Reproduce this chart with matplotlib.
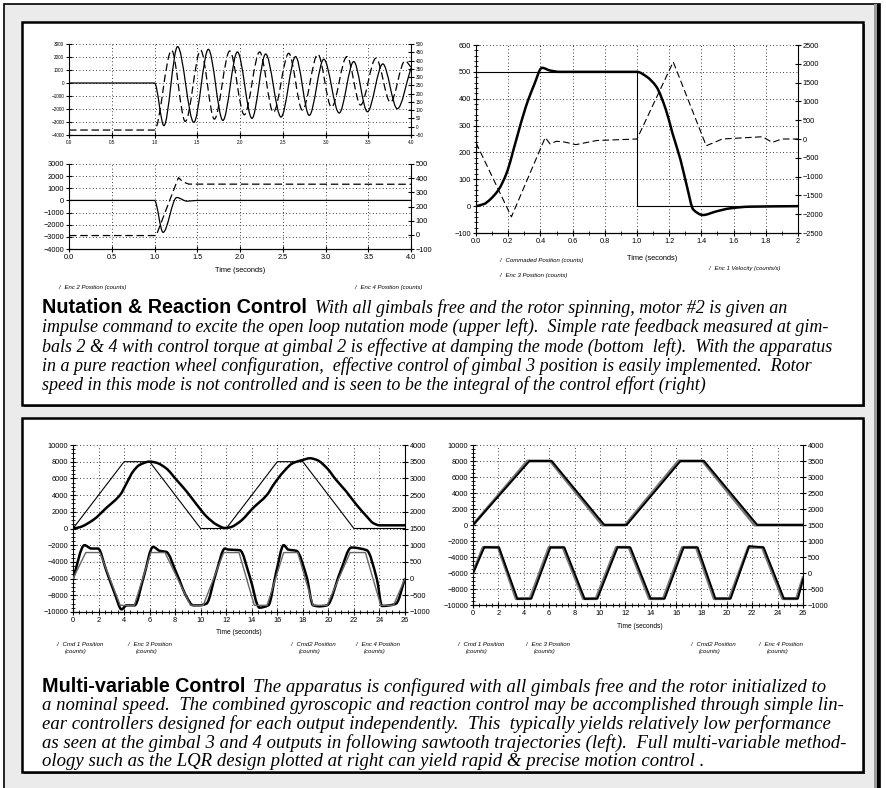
import numpy as np
import matplotlib
matplotlib.use("Agg")
import matplotlib.pyplot as plt
from matplotlib.path import Path
from matplotlib.patches import PathPatch, Rectangle
from matplotlib.ticker import MultipleLocator, FormatStrFormatter

plt.rcParams['font.family'] = ['Liberation Sans', 'DejaVu Sans']

# ---------------- data ----------------
# upper left: open loop nutation (Enc 2 left axis, Enc 4 right axis)
ol_t2 = [0, 1.0, 1.11, 1.27, 1.46, 1.63, 1.80, 1.97, 2.14, 2.30, 2.48, 2.65, 2.81,
         2.98, 3.16, 3.33, 3.49, 3.67, 3.84, 4.0]
ol_enc2 = [0, 0, -3280, 2800, -3030, 2590, -2880, 2390, -2720, 2230, -2620, 2030,
           -2490, 1830, -2310, 1650, -2210, 1470, -1980, 1150]
ol_t4 = [0, 1.0, 1.20, 1.36, 1.54, 1.70, 1.88, 2.05, 2.23, 2.39, 2.57, 2.73, 2.91,
         3.07, 3.25, 3.41, 3.59, 3.76, 3.93, 4.0]
ol_enc4 = [-20, -20, 462, 32, 462, 46, 458, 72, 452, 87, 444, 100, 438, 118, 424,
           131, 414, 147, 398, 360]

# lower left: rate feedback damping
cl_t2 = [0, 1.0, 1.10, 1.26, 1.38, 1.5, 4.0]
cl_enc2 = [0, 0, -2630, 240, -60, 0, 0]
cl_t4 = [0, 1.02, 1.28, 1.33, 1.40, 4.0]
cl_enc4 = [-5, -5, 404, 375, 358, 357]

# right: reaction wheel control of gimbal 3
rw_cmd_t = [0, 0, 1.0, 1.0, 2.0]
rw_cmd = [0, 500, 500, 0, 0]
rw_t3 = [0, 0.05, 0.09, 0.14, 0.19, 0.25, 0.31, 0.36, 0.41, 0.46, 0.52, 1.0, 1.06,
         1.12, 1.18, 1.22, 1.27, 1.31, 1.35, 1.41, 1.49, 1.58, 1.70, 2.0]
rw_enc3 = [0, 8, 26, 61, 123, 247, 371, 450, 515, 505, 500, 500, 482, 445, 358,
           272, 173, 74, -13, -33, -20, -8, -2, 0]
rw_tv = [0, 0.22, 0.43, 0.46, 0.50, 0.55, 0.62, 0.75, 1.0, 1.225, 1.43, 1.53, 1.78,
         1.84, 1.9, 2.0]
rw_vel = [-100, -2070, 40, -130, -60, -80, -150, -40, 0, 2050, -180, 0, 60, -90, 0, 0]
rw_xticks = [0, 0.2, 0.4, 0.6, 0.8, 1.0, 1.2, 1.4, 1.6, 1.8, 2.0]
rw_xlabels = ['0.0', '0.2', '0.4', '0.6', '0.8', '1.0', '1.2', '1.4', '1.6', '1.8', '2']

# bottom left: decoupled linear controllers
dl_cmd1_t = [0, 4, 6, 10, 12, 16, 18, 22, 26]
dl_cmd1 = [0, 8000, 8000, 0, 0, 8000, 8000, 0, 0]
dl_t3 = [0, 0.5, 1.6, 2.6, 3.7, 4.2, 4.7, 5.2, 6.0, 6.5, 7.3, 8.1, 8.9, 9.7, 10.45,
         11.25, 11.9, 12.3, 13.1, 14.1, 15.2, 15.7, 16.5, 17.2, 18.0, 18.55, 19.1,
         19.9, 20.6, 21.4, 22.2, 23.0, 23.5, 24.0, 26]
dl_enc3 = [0, 140, 1050, 2450, 4040, 5430, 6820, 7600, 8010, 7890, 7200, 5830, 4430,
           2840, 1450, 460, 60, 140, 850, 2450, 4040, 5230, 6820, 7810, 8210, 8410,
           8210, 7210, 5830, 4430, 2840, 1450, 660, 380, 380]
dl_cmd2_t = [0, 1.0, 2.1, 3.7, 4.8, 6.1, 7.2, 9.2, 10.2, 11.8, 13.0, 14.2, 15.2,
             16.5, 17.6, 18.8, 19.9, 21.7, 22.9, 24.1, 25.1, 26]
dl_cmd2 = [0, 780, 780, -800, -800, 780, 780, -800, -800, 780, 780, -800, -800,
           780, 780, -800, -800, 780, 780, -800, -800, 0]
dl_t4 = [0, 0.9, 1.44, 1.96, 2.6, 3.27, 3.8, 4.2, 4.83, 5.5, 6.27, 6.8, 7.3, 8.1,
         8.9, 9.4, 9.9, 10.45, 11.2, 11.9, 12.15, 13.07, 13.85, 14.6, 15.3, 15.9,
         16.5, 16.85, 17.5, 18.3, 18.8, 19.3, 19.9, 20.9, 21.8, 23.0, 23.8, 24.2,
         24.8, 25.3, 26]
dl_enc4 = [0, 1000, 900, 900, 250, -450, -920, -800, -800, 0, 950, 830, 800, 170,
           -550, -800, -800, -750, 170, 900, 870, 850, 50, -870, -800, 170, 1000, 870,
           830, 50, -800, -830, -800, 170, 930, 850, -20, -820, -800, -750, 0]

# bottom right: LQR
lq_cmd1_t = [0, 4.3, 6.1, 10.2, 12.0, 16.2, 18.1, 22.2, 26]
lq_cmd1 = [0, 8000, 8000, 0, 0, 8000, 8000, 0, 0]
lq_t3 = [0, 4.45, 6.2, 10.35, 12.1, 16.35, 18.2, 22.4, 26]
lq_enc3 = [0, 8000, 8000, 0, 0, 8000, 8000, 0, 0]
lq_cmd2_t = [0, 0.8, 2.0, 3.4, 4.5, 6.0, 7.1, 8.7, 9.7, 11.3, 12.3, 13.9, 15.0,
             16.5, 17.6, 19.0, 20.2, 21.7, 22.8, 24.4, 25.5, 26]
lq_cmd2 = [0, 800, 800, -800, -800, 800, 800, -800, -800, 800, 800, -800, -800,
           800, 800, -800, -800, 800, 800, -800, -800, -150]
lq_t4 = [0, 0.9, 2.05, 3.5, 4.6, 6.1, 7.2, 8.8, 9.8, 11.4, 12.4, 14.0, 15.1, 16.6,
         17.7, 19.1, 20.3, 21.75, 22.9, 24.5, 25.6, 26]
lq_enc4 = [0, 810, 800, -810, -800, 800, 800, -810, -800, 810, 800, -800, -800,
           800, 800, -800, -800, 840, 800, -800, -800, -200]

cap1_head = "Nutation & Reaction Control"
cap1_lines = [
    "With all gimbals free and the rotor spinning, motor #2 is given an",
    "impulse command to excite the open loop nutation mode (upper left).  Simple rate feedback measured at gim-",
    "bals 2 & 4 with control torque at gimbal 2 is effective at damping the mode (bottom  left).  With the apparatus",
    "in a pure reaction wheel configuration,  effective control of gimbal 3 position is easily implemented.  Rotor",
    "speed in this mode is not controlled and is seen to be the integral of the control effort (right)",
]
cap2_head = "Multi-variable Control"
cap2_lines = [
    "The apparatus is configured with all gimbals free and the rotor initialized to",
    "a nominal speed.  The combined gyroscopic and reaction control may be accomplished through simple lin-",
    "ear controllers designed for each output independently.  This  typically yields relatively low performance",
    "as seen at the gimbal 3 and 4 outputs in following sawtooth trajectories (left).  Full multi-variable method-",
    "ology such as the LQR design plotted at right can yield rapid & precise motion control .",
]

# ---------------- helpers ----------------
W, H = 886, 788
fig = plt.figure(figsize=(W / 100, H / 100), dpi=100)
fig.patch.set_facecolor('white')


def box(x0, y0, x1, y1):
    return [x0 / W, 1 - y1 / H, (x1 - x0) / W, (y1 - y0) / H]


def prect(x0, y0, x1, y1, **kw):
    fig.add_artist(Rectangle((x0 / W, 1 - y1 / H), (x1 - x0) / W, (y1 - y0) / H,
                             transform=fig.transFigure, **kw))


def ftext(x, y, s, **kw):
    return fig.text(x / W, 1 - y / H, s, **kw)


def smooth(ax, x, y, **kw):
    # monotone cubic drawn as bezier path through the read points
    x = np.asarray(x, float)
    y = np.asarray(y, float)
    h = np.diff(x)
    d = np.diff(y) / h
    m = np.zeros_like(y)
    m[0], m[-1] = d[0], d[-1]
    for i in range(1, len(y) - 1):
        if d[i - 1] * d[i] > 0:
            m[i] = 2 / (1 / d[i - 1] + 1 / d[i])
    verts = [(x[0], y[0])]
    codes = [Path.MOVETO]
    for i in range(len(h)):
        verts += [(x[i] + h[i] / 3, y[i] + m[i] * h[i] / 3),
                  (x[i + 1] - h[i] / 3, y[i + 1] - m[i + 1] * h[i] / 3),
                  (x[i + 1], y[i + 1])]
        codes += [Path.CURVE4] * 3
    ax.add_patch(PathPatch(Path(verts, codes), fill=False, **kw))


def make_axes(rect, xlim, xmaj, ylim, ymaj, rlim, rmaj, fs, xminor=None, yminor=None):
    ax = fig.add_axes(box(*rect))
    ax.set_xlim(*xlim)
    ax.set_ylim(*ylim)
    ax.xaxis.set_major_locator(MultipleLocator(xmaj))
    ax.yaxis.set_major_locator(MultipleLocator(ymaj))
    if xminor:
        ax.xaxis.set_minor_locator(MultipleLocator(xminor))
    if yminor:
        ax.yaxis.set_minor_locator(MultipleLocator(yminor))
    ax.grid(True, which='major', color='black', linestyle=(0, (1, 3)), linewidth=0.6)
    ax.spines['top'].set_visible(False)
    ax.spines['right'].set_visible(False)
    ax.tick_params(which='major', direction='inout', length=5, width=0.8,
                   labelsize=fs, pad=1)
    ax.tick_params(which='minor', direction='inout', length=3, width=0.6)
    ar = ax.twinx()
    ar.set_ylim(*rlim)
    ar.yaxis.set_major_locator(MultipleLocator(rmaj))
    ar.spines['top'].set_visible(False)
    ar.spines['left'].set_visible(False)
    ar.tick_params(direction='inout', length=5, width=0.8, labelsize=fs, pad=1)
    return ax, ar


# ---------------- page frame ----------------
prect(4, 4, 880, 800, facecolor='#ebebeb', edgecolor='black', linewidth=1.2, zorder=-5)
prect(874, 4, 877, 800, facecolor='#9a9a9a', edgecolor='none', zorder=-4)
prect(877, 4, 880, 800, facecolor='black', edgecolor='none', zorder=-4)
for y0, y1 in [(22, 405), (418, 772)]:
    prect(24, y0 + 2, 865, y1 + 2, facecolor='#555555', edgecolor='none', zorder=-3)
    prect(22, y0, 863, y1, facecolor='white', edgecolor='black', linewidth=1.8, zorder=-2)

dash = (0, (6, 3))

# ---------------- upper left ----------------
a1, a1r = make_axes((69, 44, 411, 135), (0, 4), 0.5, (-4000, 3000), 1000,
                    (-50, 500), 50, 3.3)
a1.xaxis.set_major_formatter(FormatStrFormatter('%.1f'))
smooth(a1, ol_t2, ol_enc2, edgecolor='black', linewidth=0.9)
smooth(a1r, ol_t4, ol_enc4, edgecolor='black', linewidth=0.9, linestyle=dash)

a2, a2r = make_axes((69, 164, 411, 249), (0, 4), 0.5, (-4000, 3000), 1000,
                    (-100, 500), 100, 5.3)
a2.xaxis.set_major_formatter(FormatStrFormatter('%.1f'))
smooth(a2, cl_t2, cl_enc2, edgecolor='black', linewidth=0.9)
a2r.plot(cl_t4, cl_enc4, color='black', linewidth=0.9, linestyle=dash)
ftext(240, 272, "Time (seconds)", ha='center', fontsize=5.3)
ftext(58, 289, "/   Enc 2 Position (counts)", fontsize=4.3, style='italic')
ftext(423, 289, "/   Enc 4 Position (counts)", fontsize=4.3, style='italic', ha='right')

# ---------------- upper right ----------------
a3, a3r = make_axes((476, 45, 798, 233), (0, 2), 0.2, (-100, 600), 100,
                    (-2500, 2500), 500, 5.3, xminor=0.1, yminor=20)
a3.set_xticks(rw_xticks, labels=rw_xlabels)
a3.plot(rw_cmd_t, rw_cmd, color='black', linewidth=0.8)
smooth(a3, rw_t3, rw_enc3, edgecolor='black', linewidth=1.8)
a3r.plot(rw_tv, rw_vel, color='black', linewidth=0.8, linestyle=dash)
ftext(652, 260, "Time (seconds)", ha='center', fontsize=5.3)
ftext(499, 262, "/   Commaded Position (counts)", fontsize=4.3, style='italic')
ftext(499, 277, "/   Enc 3 Position (counts)", fontsize=4.3, style='italic')
ftext(708, 270, "/   Enc 1 Velocity (counts/s)", fontsize=4.3, style='italic')

# ---------------- bottom left ----------------
a4, a4r = make_axes((73, 445, 405, 612), (0, 26), 2, (-10000, 10000), 2000,
                    (-1000, 4000), 500, 5.3, xminor=0.5, yminor=500)
a4.plot(dl_cmd1_t, dl_cmd1, color='black', linewidth=0.8)
smooth(a4, dl_t3, dl_enc3, edgecolor='black', linewidth=1.8)
a4r.plot(dl_cmd2_t, dl_cmd2, color='#666666', linewidth=1.0)
smooth(a4r, dl_t4, dl_enc4, edgecolor='black', linewidth=1.8)
ftext(239, 634, "Time (seconds)", ha='center', fontsize=4.8)

# ---------------- bottom right ----------------
a5, a5r = make_axes((473, 445, 803, 605), (0, 26), 2, (-10000, 10000), 2000,
                    (-1000, 4000), 500, 5.3, xminor=0.5, yminor=500)
a5.plot(lq_cmd1_t, lq_cmd1, color='#777777', linewidth=2.2)
a5.plot(lq_t3, lq_enc3, color='black', linewidth=1.4)
a5r.plot(lq_cmd2_t, lq_cmd2, color='#777777', linewidth=2.2)
a5r.plot(lq_t4, lq_enc4, color='black', linewidth=1.4)
ftext(640, 628, "Time (seconds)", ha='center', fontsize=4.8)

for x0, lab in [(56, "Cmd 1 Position"), (127, "Enc 3 Position"),
                (290, "Cmd2 Position"), (355, "Enc 4 Position"),
                (457, "Cmd 1 Position"), (525, "Enc 3 Position"),
                (690, "Cmd2 Position"), (758, "Enc 4 Position")]:
    ftext(x0, 646, "/   " + lab, fontsize=4.3, style='italic')
    ftext(x0 + 9, 653, "(counts)", fontsize=4.3, style='italic')

# ---------------- captions ----------------
r = fig.canvas.get_renderer()
serif = ['Liberation Serif', 'DejaVu Serif']
for head, lines, base, step, fs in [(cap1_head, cap1_lines, 313, 19.3, 13.0),
                                    (cap2_head, cap2_lines, 692, 18.5, 13.5)]:
    th = ftext(42, base, head, fontsize=14.2, fontweight='bold', va='baseline')
    x_end = th.get_window_extent(r).x1
    ftext(x_end + 8, base, lines[0], fontsize=fs, style='italic', va='baseline',
          family=serif)
    for k, s in enumerate(lines[1:]):
        ftext(42, base + step * (k + 1), s, fontsize=fs, style='italic',
              va='baseline', family=serif)

fig.savefig("out.png", dpi=100, facecolor=fig.get_facecolor())
